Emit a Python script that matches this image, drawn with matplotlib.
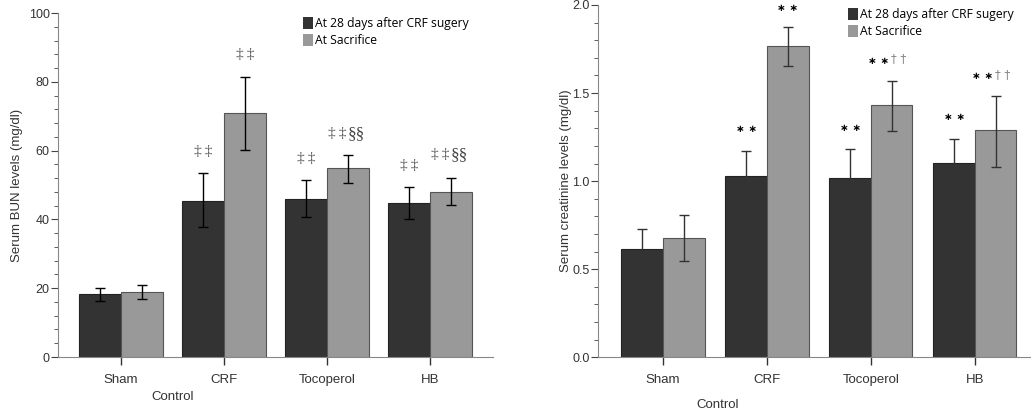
import matplotlib
matplotlib.use('Agg')
import matplotlib.pyplot as plt
import numpy as np
from matplotlib.ticker import MultipleLocator, FormatStrFormatter
from matplotlib.patches import Patch

groups = ['Sham', 'CRF', 'Tocoperol', 'HB']
series = ['At 28 days after CRF sugery', 'At Sacrifice']

# BUN (mg/dl)
bun_28 = [18.2, 45.4, 46.0, 44.9]
bun_28_lo = [16.3, 37.7, 40.8, 40.1]
bun_28_hi = [20.0, 53.4, 51.4, 49.4]
bun_sac = [18.9, 71.0, 54.8, 48.1]
bun_sac_lo = [17.0, 60.3, 50.5, 44.3]
bun_sac_hi = [20.8, 81.4, 58.7, 52.0]
# significance marks: (first symbol, second symbol)
bun_marks_28 = [('', ''), ('‡‡', ''), ('‡‡', ''), ('‡‡', '')]
bun_marks_sac = [('', ''), ('‡‡', ''), ('‡‡', '§§'), ('‡‡', '§§')]
bun_mark_y_28 = [None, 60.3, 58.0, 56.0]
bun_mark_y_sac = [None, 88.4, 65.5, 59.3]

# creatinine (mg/dl)
cr_28 = [0.614, 1.032, 1.017, 1.102]
cr_28_lo = [0.50, 0.88, 0.841, 0.96]
cr_28_hi = [0.727, 1.172, 1.183, 1.239]
cr_sac = [0.676, 1.769, 1.432, 1.291]
cr_sac_lo = [0.547, 1.651, 1.282, 1.083]
cr_sac_hi = [0.809, 1.875, 1.570, 1.485]
cr_marks_28 = [('', ''), ('**', ''), ('**', ''), ('**', '')]
cr_marks_sac = [('', ''), ('**', ''), ('**', '††'), ('**', '††')]
cr_mark_y_28 = [None, 1.30, 1.31, 1.37]
cr_mark_y_sac = [None, 1.99, 1.69, 1.60]

dark = '#333333'
light = '#999999'
plt.rcParams['font.family'] = ['Liberation Sans', 'DejaVu Sans']

fig = plt.figure(figsize=(10.31, 4.15), dpi=100)


def mark(ax, x, y, pair, kind):
    a, b = pair
    if not a:
        return
    if kind == 'bun':
        sa = '\u2009'.join(a)
        st_a = dict(fontsize=11, color='#555555', family=['Liberation Serif'])
        st_b = dict(fontsize=12.5, color='#444444', family=['Liberation Serif'])
        dy_b = 0
    else:
        sa = ' '.join('∗' for _ in a)
        st_a = dict(fontsize=7.5, color='black', family=['DejaVu Sans'], fontweight='bold')
        st_b = dict(fontsize=8.5, color='#888888', family=['DejaVu Sans'])
        dy_b = 2
    if b:
        sb = ' '.join(b) if kind == 'cr' else b
        ax.annotate(sa, (x, y), xytext=(-1.5, 0), textcoords='offset points',
                    ha='right', va='center_baseline', annotation_clip=False, **st_a)
        ax.annotate(sb, (x, y), xytext=(-0.5, dy_b), textcoords='offset points',
                    ha='left', va='center_baseline', annotation_clip=False, **st_b)
    else:
        ax.annotate(sa, (x, y), ha='center', va='center_baseline', annotation_clip=False, **st_a)


def panel(ax, v1, lo1, hi1, v2, lo2, hi2, m1, my1, m2, my2, w, ecol, kind):
    x = np.arange(len(groups))
    ax.bar(x - w / 2, v1, w, color=dark, edgecolor='#222222', linewidth=0.8)
    ax.bar(x + w / 2, v2, w, color=light, edgecolor='#555555', linewidth=0.8)
    v1 = np.array(v1); v2 = np.array(v2)
    ax.errorbar(x - w / 2, v1, yerr=[v1 - np.array(lo1), np.array(hi1) - v1],
                fmt='none', ecolor=ecol, elinewidth=1, capsize=3.6, capthick=1)
    ax.errorbar(x + w / 2, v2, yerr=[v2 - np.array(lo2), np.array(hi2) - v2],
                fmt='none', ecolor=ecol, elinewidth=1, capsize=3.6, capthick=1)
    for i in range(len(groups)):
        mark(ax, x[i] - w / 2, my1[i], m1[i], kind)
        mark(ax, x[i] + w / 2, my2[i], m2[i], kind)
    ax.set_xticks(x)
    ax.set_xticklabels(groups, fontsize=9.5, color='#333333')
    for s in ['top', 'right']:
        ax.spines[s].set_visible(False)
    for s in ['left', 'bottom']:
        ax.spines[s].set_color('#888888')
    ax.tick_params(axis='x', length=6, width=1, color='#333333', pad=6)
    ax.tick_params(axis='y', which='major', length=5, color='#444444', labelsize=9, labelcolor='#333333', pad=1)
    ax.tick_params(axis='y', which='minor', length=3, color='#444444')
    leg = ax.legend(handles=[Patch(facecolor=dark, edgecolor='none'), Patch(facecolor=light, edgecolor='none')],
                    labels=series, frameon=False, handlelength=0.85, handleheight=1.15,
                    handletextpad=0.15, labelspacing=0.35, borderaxespad=0, borderpad=0,
                    prop={'family': ['Open Sans', 'DejaVu Sans'], 'size': 8.7})
    return leg


ax1 = fig.add_axes([58 / 1031, 58 / 415, 435 / 1031, 344 / 415])
leg1 = panel(ax1, bun_28, bun_28_lo, bun_28_hi, bun_sac, bun_sac_lo, bun_sac_hi,
             bun_marks_28, bun_mark_y_28, bun_marks_sac, bun_mark_y_sac, 0.41, 'black', 'bun')
ax1.set_xlim(-0.61, 3.61)
ax1.set_ylim(0, 100)
ax1.yaxis.set_major_locator(MultipleLocator(20))
ax1.yaxis.set_minor_locator(MultipleLocator(4))
leg1.set_bbox_to_anchor((303 / 1031, 1 - 17 / 415), transform=fig.transFigure)
leg1._loc = 2
ax1.set_ylabel('Serum BUN levels (mg/dl)', fontsize=9.5, color='#333333', labelpad=4)
fig.text(173 / 1031, 1 - 397 / 415, 'Control', ha='center', va='center', fontsize=9.5, color='#333333')

ax2 = fig.add_axes([598 / 1031, 57.7 / 415, 433 / 1031, 352.3 / 415])
leg2 = panel(ax2, cr_28, cr_28_lo, cr_28_hi, cr_sac, cr_sac_lo, cr_sac_hi,
             cr_marks_28, cr_mark_y_28, cr_marks_sac, cr_mark_y_sac, 0.40, '#333333', 'cr')
ax2.set_xlim(-0.625, 3.54)
ax2.set_ylim(0, 2.0)
ax2.yaxis.set_major_locator(MultipleLocator(0.5))
ax2.yaxis.set_minor_locator(MultipleLocator(0.1))
ax2.yaxis.set_major_formatter(FormatStrFormatter('%.1f'))
leg2.set_bbox_to_anchor((848 / 1031, 1 - 8 / 415), transform=fig.transFigure)
leg2._loc = 2
ax2.set_ylabel('Serum creatinine levels (mg/dl)', fontsize=9.5, color='#333333', labelpad=0)
fig.text(718 / 1031, 1 - 405 / 415, 'Control', ha='center', va='center', fontsize=9.5, color='#333333')

fig.savefig('out.png', dpi=100)
